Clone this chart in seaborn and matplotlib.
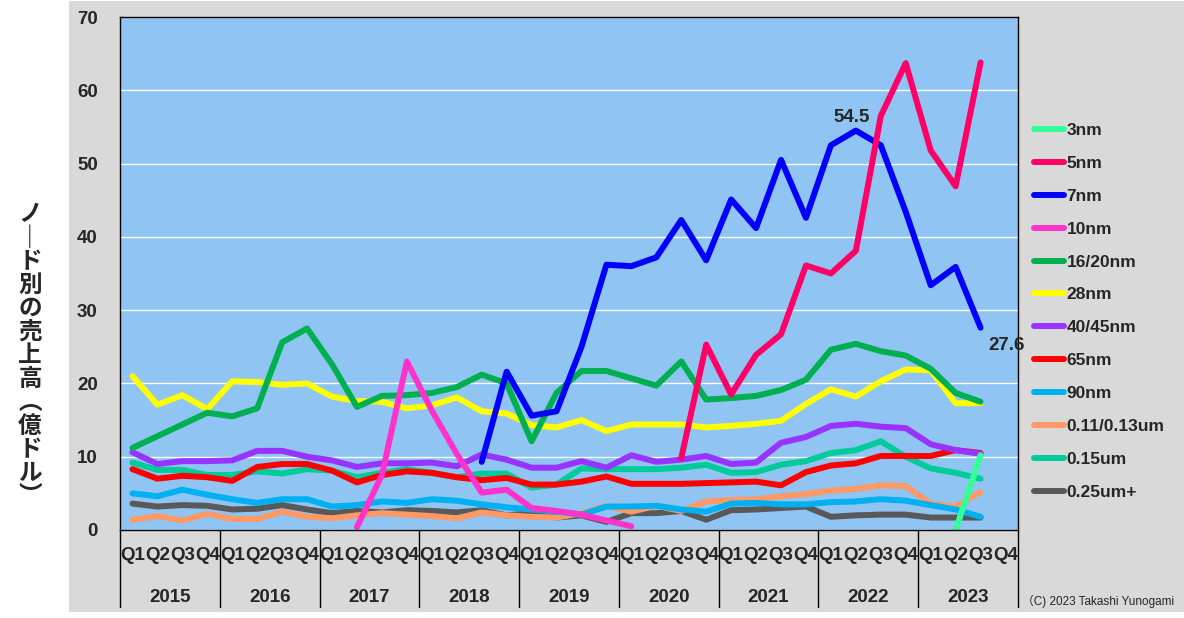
import numpy as np
import pandas as pd
import matplotlib
matplotlib.use("Agg")
import matplotlib.pyplot as plt
import seaborn as sns
from matplotlib.patches import Rectangle

nan = np.nan

years = ["2015", "2016", "2017", "2018", "2019", "2020", "2021", "2022", "2023"]
quarters = ["Q1", "Q2", "Q3", "Q4"]

nodes = ["3nm", "5nm", "7nm", "10nm", "16/20nm", "28nm", "40/45nm", "65nm",
         "90nm", "0.11/0.13um", "0.15um", "0.25um+"]
node_colors = ["#33FF99", "#FF0066", "#0000FF", "#FF33CC", "#00B050", "#FFFF00",
               "#9933FF", "#FF0000", "#00B0F0", "#FF9966", "#00CC99", "#595959"]

# quarterly sales, 2015Q1 .. 2023Q4 (100M USD)
s_3nm = [nan] * 33 + [0.0, 10.2, nan]
s_5nm = [nan] * 22 + [9.8, 25.3, 18.5, 23.9, 26.7, 36.1, 35.0, 38.1, 56.5, 63.7,
                      51.8, 46.9, 63.8, nan]
s_7nm = [nan] * 14 + [9.3, 21.6, 15.6, 16.2, 25.0, 36.2, 36.0, 37.2, 42.3, 36.8,
                      45.1, 41.2, 50.5, 42.6, 52.5, 54.5, 52.5, 43.4, 33.4, 35.9,
                      27.6, nan]
s_10nm = [nan] * 9 + [0.4, 7.5, 23.0, 16.3, 10.4, 5.1, 5.5, 3.0, 2.6, 2.1, 1.3,
                      0.5] + [nan] * 15
s_16nm = [11.2, 12.8, 14.4, 16.0, 15.5, 16.6, 25.6, 27.5, 22.6, 16.8, 18.3, 18.4,
          18.7, 19.5, 21.2, 20.0, 12.1, 18.7, 21.7, 21.7, 20.7, 19.7, 23.0, 17.8,
          18.0, 18.3, 19.1, 20.5, 24.6, 25.4, 24.4, 23.8, 22.0, 18.7, 17.5, nan]
s_28nm = [21.0, 17.1, 18.4, 16.5, 20.3, 20.2, 19.8, 20.0, 18.2, 17.6, 17.5, 16.6,
          17.0, 18.1, 16.2, 15.9, 14.3, 14.0, 15.0, 13.5, 14.4, 14.4, 14.4, 14.0,
          14.2, 14.5, 14.9, 17.2, 19.2, 18.2, 20.3, 21.9, 21.8, 17.3, 17.3, nan]
s_40nm = [10.6, 9.0, 9.4, 9.4, 9.5, 10.8, 10.8, 10.0, 9.5, 8.6, 9.1, 9.1,
          9.2, 8.7, 10.3, 9.6, 8.5, 8.5, 9.4, 8.5, 10.2, 9.3, 9.6, 10.1,
          9.0, 9.2, 11.9, 12.7, 14.2, 14.5, 14.1, 13.9, 11.7, 10.9, 10.4, nan]
s_65nm = [8.3, 7.0, 7.4, 7.2, 6.7, 8.6, 9.0, 9.0, 8.1, 6.5, 7.5, 8.0,
          7.8, 7.2, 6.8, 7.1, 6.2, 6.2, 6.6, 7.3, 6.3, 6.3, 6.3, 6.4,
          6.5, 6.6, 6.1, 7.9, 8.8, 9.1, 10.1, 10.1, 10.1, 10.9, 10.5, nan]
s_90nm = [5.0, 4.6, 5.5, 4.8, 4.2, 3.7, 4.2, 4.2, 3.2, 3.4, 3.9, 3.7,
          4.2, 4.0, 3.5, 3.1, 2.8, 2.5, 2.1, 3.2, 3.2, 3.3, 2.8, 2.5,
          3.6, 3.7, 3.5, 3.5, 3.8, 3.9, 4.2, 4.0, 3.4, 2.8, 1.8, nan]
s_013um = [1.4, 1.9, 1.3, 2.2, 1.5, 1.5, 2.5, 1.8, 1.6, 2.0, 2.3, 2.1,
           1.9, 1.6, 2.4, 2.0, 1.8, 1.7, 2.3, 3.3, 2.5, 3.3, 2.6, 3.9,
           4.1, 4.2, 4.6, 4.9, 5.4, 5.6, 6.1, 6.0, 3.6, 3.2, 5.2, nan]
s_015um = [9.2, 8.2, 8.2, 7.5, 7.5, 8.0, 7.7, 8.3, 8.1, 7.2, 7.8, 8.3,
           7.8, 7.2, 7.7, 7.7, 5.8, 6.2, 8.4, 8.3, 8.3, 8.3, 8.5, 8.9,
           7.8, 7.9, 8.9, 9.4, 10.5, 10.9, 12.1, 10.0, 8.4, 7.8, 7.0, nan]
s_025um = [3.6, 3.2, 3.4, 3.3, 2.8, 2.9, 3.4, 2.8, 2.3, 2.6, 2.4, 2.7,
           2.6, 2.4, 2.7, 2.0, 2.3, 1.7, 2.0, 1.1, 2.3, 2.3, 2.6, 1.4,
           2.7, 2.8, 3.0, 3.2, 1.8, 2.0, 2.1, 2.1, 1.7, 1.7, 1.7, nan]

series = [s_3nm, s_5nm, s_7nm, s_10nm, s_16nm, s_28nm, s_40nm, s_65nm,
          s_90nm, s_013um, s_015um, s_025um]

# ---- long-form data ----
rows = []
for node, vals in zip(nodes, series):
    for qi, v in enumerate(vals):
        if not np.isnan(v):
            rows.append({"q": qi, "node": node, "value": v})
df = pd.DataFrame(rows)
n_q = len(years) * len(quarters)

sns.set_theme(style="white")
plt.rcParams["font.family"] = ["Liberation Sans", "Noto Sans CJK JP", "DejaVu Sans"]

W, H = 1184, 618
fig = plt.figure(figsize=(W / 100, H / 100), dpi=100)
fig.patch.set_facecolor("white")
fig.add_artist(Rectangle((69 / W, 1 - 612 / H), 1 - 69 / W, (612 - 1) / H,
                         transform=fig.transFigure, facecolor="#D9D9D9",
                         edgecolor="none", zorder=0))

ax = fig.add_axes([120 / W, 1 - 530 / H, 898 / W, 513 / H])
ax.set_facecolor("#8FC4F3")

palette = dict(zip(nodes, node_colors))
sns.lineplot(data=df, x="q", y="value", hue="node", hue_order=nodes[::-1],
             palette=palette, estimator=None, errorbar=None, lw=4.3,
             solid_capstyle="round", solid_joinstyle="round", ax=ax, legend=True)

ax.set_xlim(-0.5, n_q - 0.5)
ax.set_ylim(0, 70)
ax.set_yticks(range(0, 71, 10))
ax.set_yticklabels([str(v) for v in range(0, 71, 10)], fontsize=13.5, fontweight="bold")
ax.yaxis.grid(True, color="white", lw=1)
ax.xaxis.grid(False)
ax.set_axisbelow(True)
ax.set_xticks(range(n_q))
ax.set_xticklabels([quarters[i % 4] for i in range(n_q)], fontsize=13.5, fontweight="bold")
ax.tick_params(axis="x", length=0, pad=12)
ax.tick_params(axis="y", length=0, pad=16)
ax.set_xlabel("")
ax.set_ylabel("")
for sp in ax.spines.values():
    sp.set_color("black")
    sp.set_linewidth(1)

# year labels and separators
trans = ax.get_xaxis_transform()
for k, yr in enumerate(years):
    ax.text(1.5 + 4 * k, (530 - 597) / 513, yr, transform=trans, ha="center",
            va="center", fontsize=13.5, fontweight="bold")
for k in range(len(years) + 1):
    ax.plot([-0.5 + 4 * k] * 2, [0, (530 - 607) / 513], transform=trans,
            color="black", lw=1, clip_on=False)

# annotations
ax.annotate("54.5", xy=(29, 54.5), xytext=(-4, 13), textcoords="offset pixels",
            ha="center", va="center", fontsize=13.5, fontweight="bold")
ax.annotate("27.6", xy=(34, 27.6), xytext=(26, -18), textcoords="offset pixels",
            ha="center", va="center", fontsize=13.5, fontweight="bold")

# legend
handles, labels = ax.get_legend_handles_labels()
ax.legend_.remove()
fig.legend(handles[::-1], labels[::-1], loc="upper left",
           bbox_to_anchor=(1034 / W, 1 - 123 / H), frameon=False,
           prop={"weight": "bold", "size": 12.5}, handlelength=1.75,
           handletextpad=0.12, labelspacing=1.02, borderaxespad=0, borderpad=0)

# vertical y label (upright stacked characters, vertical-writing forms)
ylabel_chars = ["ノ", "｜", "ド", "別", "の", "売", "上", "高", "︵", "億", "ド", "ル", "︶"]
n_c = len(ylabel_chars)
for j, ch in enumerate(ylabel_chars):
    ypx = 214 + j * (496 - 214) / (n_c - 1)
    fig.text(30 / W, 1 - ypx / H, ch, ha="center", va="center", fontsize=17,
             fontweight="bold", family=["Noto Sans CJK JP", "DejaVu Sans"])

fig.text(1022 / W, 1 - 601 / H, "（C) 2023 Takashi Yunogami", ha="left", va="center",
         fontsize=8.5, family=["Liberation Sans", "Noto Sans CJK JP"])

fig.savefig("out.png", dpi=100)
